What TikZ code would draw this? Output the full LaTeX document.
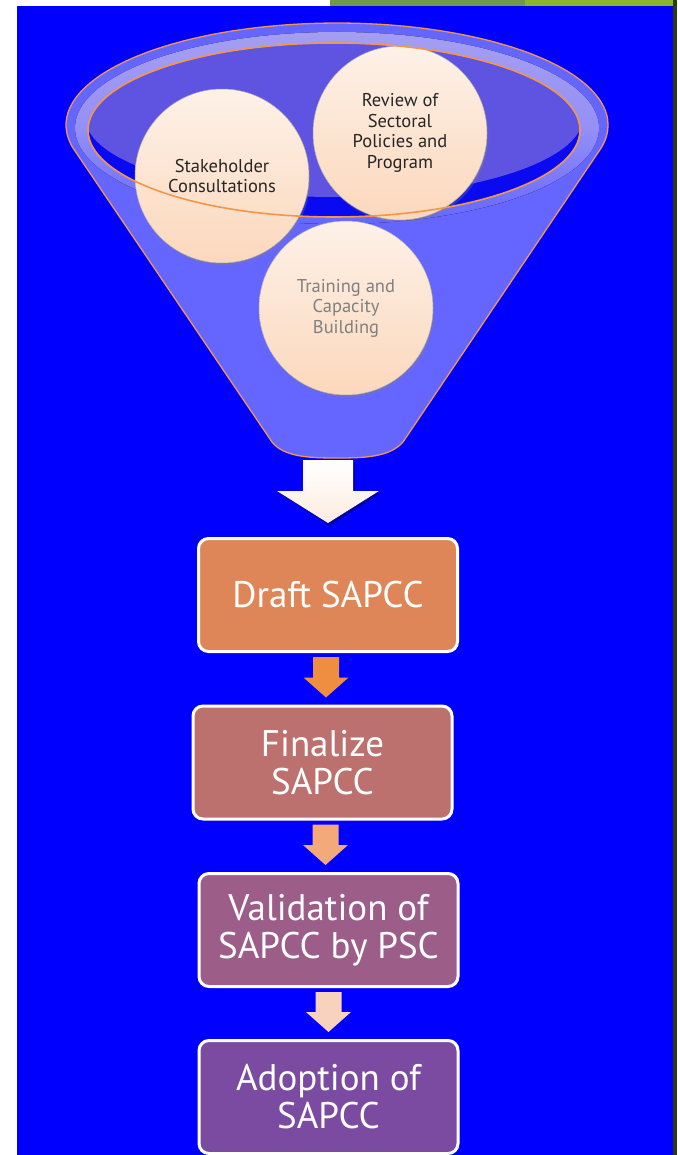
\documentclass[tikz,border=0pt]{standalone}
\usepackage{fontspec}
\setmainfont{PT Sans}
\usepackage{xcolor}
\usepackage{tikz}
\usetikzlibrary{calc,shadows}

\definecolor{slideblue}{HTML}{0000FF}
\definecolor{leafdark}{HTML}{6F9A4E}
\definecolor{leaflight}{HTML}{8BB52F}
\definecolor{leafshade}{HTML}{2F3B12}
\definecolor{funnelblue}{HTML}{6565FF}
\definecolor{rimlav}{HTML}{A49EF2}
\definecolor{innerblue}{HTML}{0A0AF2}
\definecolor{innerpurple}{HTML}{5F53E2}
\definecolor{rimorange}{HTML}{F2974A}
\definecolor{peachtop}{HTML}{FDF1E8}
\definecolor{peachbot}{HTML}{FCD8BC}
\definecolor{draftc}{HTML}{DF8658}
\definecolor{finalc}{HTML}{BD716E}
\definecolor{validc}{HTML}{9C5E88}
\definecolor{adoptc}{HTML}{7B4BA1}
\definecolor{arrowa}{HTML}{EE8E3E}
\definecolor{arrowb}{HTML}{F4A97A}
\definecolor{arrowc}{HTML}{F9D2BE}

\begin{document}
\begin{tikzpicture}[x=1pt,y=-1pt,
  idea/.style={circle,minimum size=174pt,inner sep=0pt,top color=peachtop,bottom color=peachbot,
    draw=gray!65,line width=.5pt,drop shadow={shadow xshift=1.5pt,shadow yshift=-2.5pt,opacity=.3},
    align=center,text=black!85,font=\fontsize{18.5}{20.5}\selectfont},
  stage/.style={rectangle,rounded corners=10pt,draw=white,line width=3pt,minimum width=259pt,
    minimum height=113pt,align=center,text=white,font=\fontsize{37}{38}\selectfont}]
\useasboundingbox (0,0) rectangle (677,1155);
\fill[white] (0,0) rectangle (677,1155);
% slide
\fill[slideblue] (17,6) rectangle (673,1155);
\fill[leafdark] (330,0) rectangle (525,6);
\fill[leaflight] (525,0) rectangle (673,6);
\fill[leafshade] (673,0) rectangle (677,1155);
% funnel body and rim
\filldraw[fill=funnelblue,draw=rimorange,line width=1.3pt] (73,148)
  arc[start angle=167,end angle=373,x radius=271,y radius=102] -- (403,442)
  .. controls (390,457) and (365,458) .. (337,458)
  .. controls (309,458) and (284,457) .. (272,442) -- cycle;
\fill[top color=rimlav,bottom color=funnelblue,middle color=rimlav!75!funnelblue]
  (337,128) ellipse[x radius=262,y radius=96];
\fill[innerblue] (334,130) ellipse[x radius=246,y radius=87];
\begin{scope}
\clip (334,130) ellipse[x radius=246,y radius=87];
\fill[innerpurple] (334,117) ellipse[x radius=249,y radius=80];
\end{scope}
% ideas in the funnel
\node[idea] (stake) at (222,176) {Stakeholder\\Consultations};
\node[idea] (review) at (400,133) {Review of\\Sectoral\\Policies and\\Program};
\node[idea,text=gray] (train) at (346,308) {Training and\\Capacity\\Building};
\draw[rimorange,line width=1.6pt] (334,130) ellipse[x radius=246,y radius=87];
% stages
\node[stage,fill=draftc] (draft) at (328,595) {Draft SAPCC};
\node[stage,fill=finalc] (final) at (322.5,762.5) {Finalize\\SAPCC};
\node[stage,fill=validc] (valid) at (328.5,930) {Validation of\\SAPCC by PSC};
\node[stage,fill=adoptc] (adopt) at (328.5,1097) {Adoption of\\SAPCC};
% big arrow out of the funnel
\coordinate (neck) at (328,460);
\coordinate (bigtip) at ($(neck |- draft.north)+(0,-14)$);
\fill[black,opacity=.3] ($(neck)+(-23,3)$) -- ($(neck)+(27,3)$) -- ($(bigtip)+(27,-30)$) -- ($(bigtip)+(53,-30)$)
  -- ($(bigtip)+(2,3)$) -- ($(bigtip)+(-49,-30)$) -- ($(bigtip)+(-23,-30)$) -- cycle;
\fill[top color=white,bottom color=peachtop!80!peachbot] ($(neck)+(-25,0)$) -- ($(neck)+(25,0)$)
  -- ($(bigtip)+(25,-32)$) -- ($(bigtip)+(51,-32)$) -- (bigtip) -- ($(bigtip)+(-51,-32)$)
  -- ($(bigtip)+(-25,-32)$) -- cycle;
% small arrows between stages
\foreach \u/\l/\c/\dx in {draft/final/arrowa/-2,final/valid/arrowb/3,valid/adopt/arrowc/0}{
  \coordinate (s) at ($(\u.south)+(\dx,4)$);
  \coordinate (t) at ($(s |- \l.north)+(0,-7)$);
  \fill[\c] ($(s)+(-13,0)$) -- ($(s)+(13,0)$) -- ($(t)+(13,-20)$) -- ($(t)+(22.5,-20)$) -- (t)
    -- ($(t)+(-22.5,-20)$) -- ($(t)+(-13,-20)$) -- cycle;
}
\end{tikzpicture}
\end{document}
